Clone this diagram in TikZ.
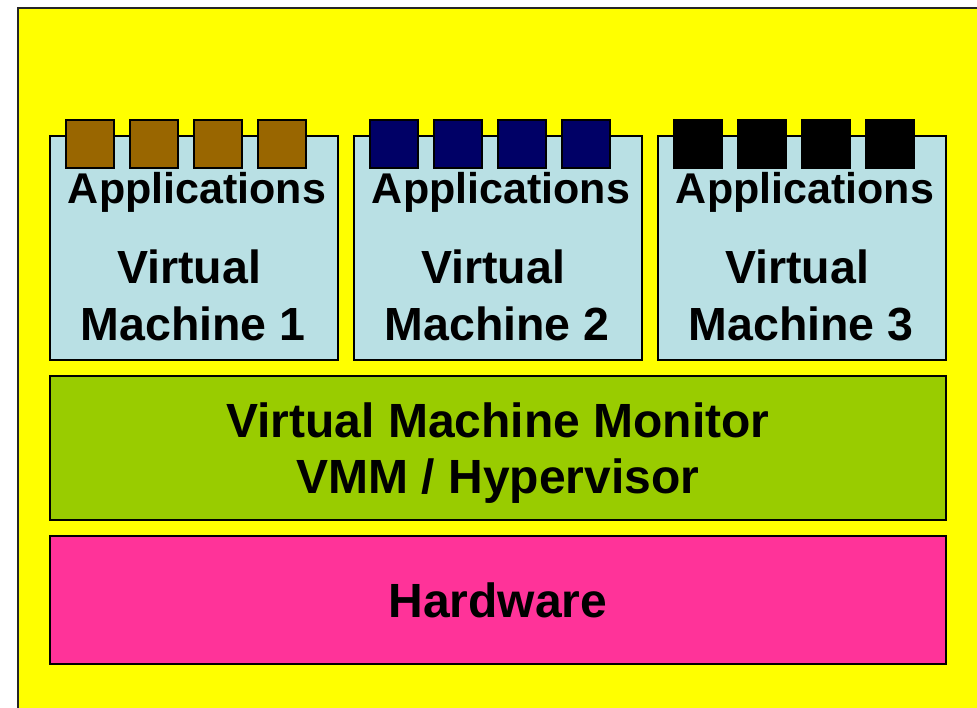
\documentclass[tikz,border=0pt]{standalone}
\usepackage{fontspec}
\setmainfont{Liberation Sans}
\definecolor{bgyellow}{HTML}{FFFF00}
\definecolor{vmblue}{HTML}{B9E0E4}
\definecolor{sqbrown}{HTML}{996600}
\definecolor{sqnavy}{HTML}{000066}
\definecolor{vmmgreen}{HTML}{99CC00}
\definecolor{hwpink}{HTML}{FF3399}
\begin{document}
\begin{tikzpicture}[x=1pt,y=-1pt,
  box/.style={draw=black, line width=1.6pt},
  sq/.style={draw=black, line width=1.6pt},
  bigtxt/.style={anchor=base, font=\bfseries\fontsize{48}{57}\selectfont, text=black, inner sep=0pt},
  vmtxt/.style={anchor=base, font=\bfseries\fontsize{46.5}{55}\selectfont, text=black, inner sep=0pt},
  apptxt/.style={anchor=base, font=\bfseries\fontsize{43}{50}\selectfont, text=black, inner sep=0pt}]
\useasboundingbox (0,0) rectangle (977,707);
\clip (0,0) rectangle (977,707);
\fill[white] (0,0) rectangle (977,707);
\draw[fill=bgyellow, draw=black!85, line width=2pt] (18,8) rectangle (1000,730);
% virtual machines
\foreach \i/\xo/\c in {1/0/sqbrown, 2/304/sqnavy, 3/608/black} {
  \draw[box, fill=vmblue] (50+\xo,136) rectangle (338+\xo,360);
  \foreach \k in {0,1,2,3} {
    \draw[sq, fill=\c] (66+\xo+64*\k,120) rectangle (114+\xo+64*\k,168);
  }
  \node[apptxt] (app\i) at (197+\xo,203) {Applications};
  \node[vmtxt] (vmA\i) at (189+\xo,283) {Virtual};
  \node[vmtxt] (vmB\i) at (193+\xo,340) {Machine \i};
}
% VMM
\draw[box, fill=vmmgreen] (50,376) rectangle (946,520);
\node[bigtxt] (vmm1) at (498,437) {Virtual Machine Monitor};
\node[bigtxt] (vmm2) at (498,493) {VMM / Hypervisor};
% Hardware
\draw[box, fill=hwpink] (50,536) rectangle (946,664);
\node[bigtxt] (hw) at (498,617) {Hardware};
\end{tikzpicture}
\end{document}
